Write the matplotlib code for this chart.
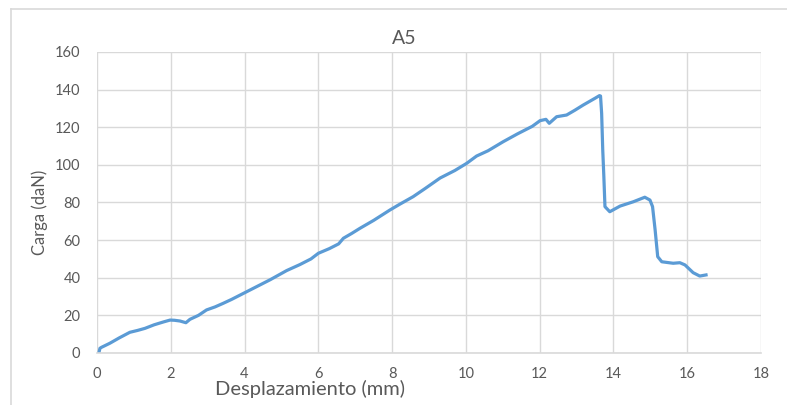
import matplotlib
matplotlib.use("Agg")
import matplotlib.pyplot as plt
from matplotlib.lines import Line2D

title = "A5"
xlabel = "Desplazamiento (mm)"
ylabel = "Carga (daN)"
x_ticks = [0, 2, 4, 6, 8, 10, 12, 14, 16, 18]
y_ticks = [0, 20, 40, 60, 80, 100, 120, 140, 160]

desplazamiento = [0.05, 0.08, 0.12, 0.35, 0.6, 0.89, 1.1, 1.3, 1.55, 1.8, 1.98, 2.1, 2.25, 2.41, 2.52,
                  2.75, 2.97, 3.2, 3.42, 3.65, 3.88, 4.1, 4.33, 4.7, 5.14, 5.5, 5.8, 6.0, 6.3, 6.55,
                  6.68, 6.9, 7.13, 7.5, 7.94, 8.2, 8.57, 8.9, 9.3, 9.7, 10.02, 10.29, 10.6, 11.01,
                  11.4, 11.8, 12.01, 12.17, 12.26, 12.46, 12.73, 12.95, 13.18, 13.5, 13.62, 13.65,
                  13.68, 13.71, 13.74, 13.77, 13.9, 14.18, 14.54, 14.85, 14.99, 15.06, 15.13, 15.2,
                  15.31, 15.62, 15.8, 15.94, 16.16, 16.34, 16.51]
carga = [0.0, 2.5, 3.0, 5.2, 8.0, 11.0, 12.0, 13.1, 15.0, 16.5, 17.5, 17.4, 17.0, 16.1, 17.9,
         20.0, 22.9, 24.5, 26.4, 28.5, 30.8, 33.0, 35.3, 39.0, 43.8, 47.0, 50.0, 53.0, 55.5, 58.0,
         61.0, 63.5, 66.3, 70.5, 76.0, 79.0, 83.1, 87.5, 93.0, 97.0, 100.8, 104.7, 107.5, 112.3,
         116.5, 120.5, 123.5, 124.2, 122.1, 125.6, 126.5, 129.0, 131.8, 135.4, 136.8, 136.6,
         127.4, 107.9, 93.7, 77.8, 75.1, 78.1, 80.4, 82.8, 81.3, 77.8, 65.4, 51.2,
         48.5, 47.7, 48.0, 46.8, 42.7, 40.9, 41.5]

fig = plt.figure(figsize=(7.87, 4.05), dpi=100)
fig.patch.set_facecolor("white")
ax = fig.add_axes([97/787, 52/405, (761-97)/787, (353-52)/405])

ax.plot(desplazamiento, carga, color="#5B9BD5", lw=2.3, solid_joinstyle="round")

ax.set_xlim(0, 18)
ax.set_ylim(0, 160)
ax.set_xticks(x_ticks)
ax.set_yticks(y_ticks)
ax.grid(True, color="#D9D9D9", lw=1.0)
ax.set_axisbelow(True)
for s in ["top", "right", "left"]:
    ax.spines[s].set_visible(False)
ax.spines["bottom"].set_color("#D9D9D9")
ax.spines["bottom"].set_linewidth(1.2)
ax.tick_params(axis="y", length=0, labelsize=10.5, labelcolor="#595959", pad=12)
ax.tick_params(axis="x", length=0, labelsize=10.5, labelcolor="#595959", pad=10)
for lab in ax.get_xticklabels() + ax.get_yticklabels():
    lab.set_family("Lato")

fig.text(404/787, 1 - 38/405, title, ha="center", va="center", fontsize=14,
         color="#595959", family="Lato")
fig.text(310/787, 1 - 389/405, xlabel, ha="center", va="center", fontsize=14.5,
         color="#595959", family="Lato")
fig.text(40/787, 1 - 212/405, ylabel, ha="center", va="center", fontsize=12,
         color="#595959", family="Lato", rotation=90)

# chart frame
fig.add_artist(Line2D([11/787, 1], [1 - 9/405, 1 - 9/405], transform=fig.transFigure,
                      color="#D9D9D9", lw=1.2))
fig.add_artist(Line2D([11/787, 11/787], [0, 1 - 9/405], transform=fig.transFigure,
                      color="#D9D9D9", lw=1.2))

fig.savefig("out.png", dpi=100)
